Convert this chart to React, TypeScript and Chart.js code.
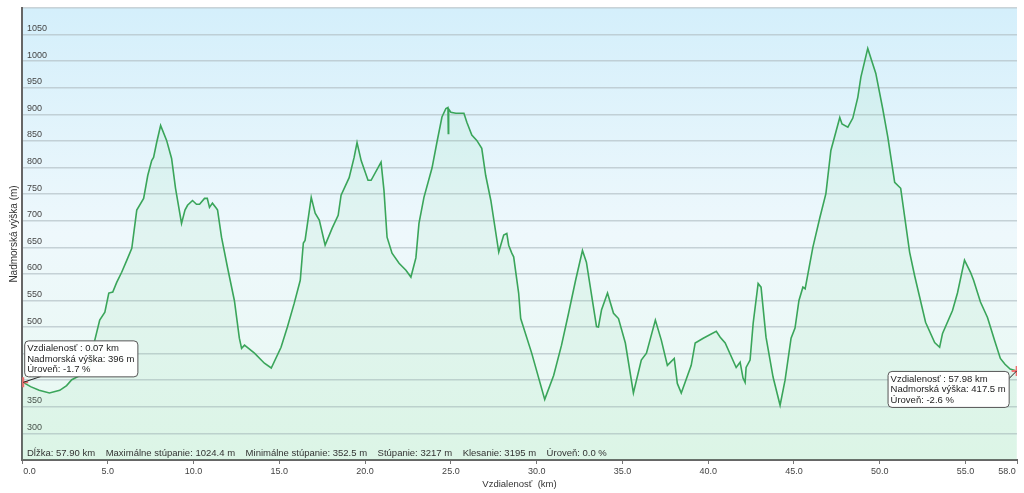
import React, { useEffect, useRef } from 'react';
import { Chart, registerables } from 'chart.js';

Chart.register(...registerables);

// ---- data ----
const distanceKm = [
  0.0, 0.07, 0.5, 1.0, 1.6, 2.2, 2.6, 2.9, 3.4, 3.95, 4.24, 4.53, 4.83, 5.06, 5.29, 5.52, 5.81, 6.1, 6.4, 6.69,
  7.09, 7.33, 7.56, 7.67, 7.85, 8.08, 8.43, 8.72, 8.95, 9.3, 9.5, 9.65, 9.94, 10.17, 10.35, 10.64, 10.8, 10.93, 11.1, 11.34,
  11.4, 11.63, 11.98, 12.38, 12.67, 12.8, 12.97, 13.55, 14.13, 14.53, 15.1, 15.47, 15.87, 16.22, 16.4, 16.5, 16.86, 17.09, 17.33, 17.67,
  18.08, 18.43, 18.6, 19.07, 19.36, 19.53, 19.77, 20.17, 20.35, 20.93, 21.1, 21.28, 21.57, 21.98, 22.38, 22.67, 22.96, 23.14, 23.43, 23.9,
  24.19, 24.48, 24.71, 24.83, 24.85, 24.87, 25.0, 25.29, 25.76, 25.93, 26.22, 26.51, 26.8, 27.03, 27.33, 27.79, 28.08, 28.26, 28.37, 28.55,
  28.66, 28.95, 29.07, 29.71, 30.47, 30.99, 31.45, 31.86, 32.27, 32.67, 32.9, 33.49, 33.6, 33.78, 34.13, 34.48, 34.77, 35.17, 35.64, 36.1,
  36.4, 36.92, 37.27, 37.62, 38.02, 38.2, 38.43, 39.01, 39.24, 39.71, 40.47, 40.7, 40.99, 41.63, 41.86, 42.03, 42.15, 42.21, 42.44, 42.62,
  42.91, 43.08, 43.37, 43.78, 44.19, 44.48, 44.83, 45.06, 45.29, 45.52, 45.65, 46.1, 46.51, 46.86, 47.15, 47.67, 47.8, 48.14, 48.43, 48.72,
  48.9, 49.3, 49.77, 50.17, 50.47, 50.87, 51.22, 51.74, 52.03, 52.67, 53.2, 53.49, 53.66, 54.24, 54.53, 54.94, 55.29, 55.47, 55.87, 56.28,
  56.69, 57.03, 57.3, 57.6, 57.98,
];
const elevationM = [
  398, 396, 388, 381, 376, 381, 390, 401, 409, 424, 475, 513, 528, 564, 566, 584, 603, 625, 648, 720,
  742, 785, 813, 819, 847, 879, 851, 817, 761, 695, 720, 729, 738, 731, 731, 742, 742, 725, 733, 723,
  720, 669, 612, 550, 479, 460, 466, 451, 432, 423, 462, 500, 545, 588, 658, 663, 744, 714, 701, 654,
  686, 710, 748, 781, 819, 847, 813, 776, 776, 810, 757, 669, 639, 620, 607, 594, 630, 695, 744, 799,
  848, 895, 911, 913, 864, 910, 904, 902, 902, 885, 861, 851, 836, 785, 738, 641, 673, 676, 654, 639,
  632, 564, 516, 451, 364, 409, 466, 526, 588, 644, 622, 501, 500, 532, 564, 526, 516, 470, 376, 438,
  451, 513, 475, 428, 441, 394, 376, 428, 470, 479, 492, 481, 470, 424, 434, 404, 396, 424, 438, 507,
  582, 575, 481, 406, 353, 400, 479, 498, 550, 575, 572, 650, 706, 751, 832, 894, 882, 876, 893, 932,
  970, 1024, 977, 911, 857, 772, 761, 641, 597, 509, 471, 462, 488, 531, 564, 626, 603, 588, 547, 518,
  475, 441, 430, 421, 417.5,
];

const xTickValues = [0, 5, 10, 15, 20, 25, 30, 35, 40, 45, 50, 55, 58];
const yMin = 250;
const yMax = 1100;
const yStep = 50;

const xAxisTitle = 'Vzdialenosť  (km)';
const yAxisTitle = 'Nadmorská výška (m)';

const statsText = [
  'Dĺžka: 57.90 km',
  'Maximálne stúpanie: 1024.4 m',
  'Minimálne stúpanie: 352.5 m',
  'Stúpanie: 3217 m',
  'Klesanie: 3195 m',
  'Úroveň: 0.0 %',
];

const markerKm = [0.07, 57.98];
const markerElev = [396, 417.5];
const markerGrade = ['-1.7', '-2.6'];
const markerElevText = ['396', '417.5'];

const FONT = "'Liberation Sans', Arial, sans-serif";

function roundRect(ctx: CanvasRenderingContext2D, x: number, y: number, w: number, h: number, r: number) {
  ctx.beginPath();
  ctx.moveTo(x + r, y);
  ctx.lineTo(x + w - r, y);
  ctx.quadraticCurveTo(x + w, y, x + w, y + r);
  ctx.lineTo(x + w, y + h - r);
  ctx.quadraticCurveTo(x + w, y + h, x + w - r, y + h);
  ctx.lineTo(x + r, y + h);
  ctx.quadraticCurveTo(x, y + h, x, y + h - r);
  ctx.lineTo(x, y + r);
  ctx.quadraticCurveTo(x, y, x + r, y);
  ctx.closePath();
}

const backgroundPlugin = {
  id: 'bgGradient',
  beforeDraw(chart: any) {
    const { ctx, chartArea: a } = chart;
    ctx.save();
    const g = ctx.createLinearGradient(0, a.top, 0, a.bottom);
    g.addColorStop(0, '#d4effb');
    g.addColorStop(0.5, '#eef8fc');
    g.addColorStop(1, '#e8f9f0');
    ctx.fillStyle = g;
    ctx.fillRect(a.left, a.top, a.width, a.height);
    ctx.restore();
  },
};

const overlayPlugin = {
  id: 'overlay',
  afterDraw(chart: any) {
    const { ctx, chartArea: a, scales } = chart;
    const xs = scales.x;
    const ys = scales.y;
    ctx.save();
    // stats line
    ctx.font = `9.5px ${FONT}`;
    ctx.fillStyle = '#333';
    ctx.textBaseline = 'alphabetic';
    ctx.textAlign = 'left';
    ctx.fillText(statsText.join('    '), a.left + 5, a.bottom - 4);

    // tooltips
    for (let i = 0; i < markerKm.length; i++) {
      const px = xs.getPixelForValue(markerKm[i]);
      const py = ys.getPixelForValue(markerElev[i]);
      const lines = [
        `Vzdialenosť : ${markerKm[i].toFixed(2)} km`,
        `Nadmorská výška: ${markerElevText[i]} m`,
        `Úroveň: ${markerGrade[i]} %`,
      ];
      ctx.font = `9.5px ${FONT}`;
      const w = Math.max(...lines.map((l) => ctx.measureText(l).width)) + 6;
      const h = 36;
      const left = i === 0;
      const bx = left ? px + 1 : px - 8 - w;
      const by = left ? py - 42 : py;
      // connector
      ctx.strokeStyle = '#222';
      ctx.lineWidth = 1;
      ctx.beginPath();
      if (left) {
        ctx.moveTo(px, py);
        ctx.lineTo(px + 18, py - 6);
      } else {
        ctx.moveTo(px, py);
        ctx.lineTo(px - 8, py + 8);
      }
      ctx.stroke();
      roundRect(ctx, bx + 0.5, by + 0.5, w, h, 4);
      ctx.fillStyle = 'rgba(255,255,255,0.95)';
      ctx.fill();
      ctx.strokeStyle = '#555';
      ctx.stroke();
      ctx.fillStyle = '#222';
      lines.forEach((l, k) => ctx.fillText(l, bx + 3, by + 11 + k * 10.5));
    }
    ctx.restore();
  },
};

export default function App() {
  const ref = useRef<HTMLCanvasElement | null>(null);
  useEffect(() => {
    if (!ref.current) return;
    const profile = distanceKm.map((d, i) => ({ x: d, y: elevationM[i] }));
    const markers = markerKm.map((d, i) => ({ x: d, y: markerElev[i] }));
    const chart = new Chart(ref.current, {
      type: 'line',
      data: {
        datasets: [
          {
            type: 'scatter' as any,
            data: markers,
            pointStyle: 'cross',
            pointRadius: 5,
            pointBorderColor: '#f07070',
            pointBorderWidth: 2,
            showLine: false,
          } as any,
          {
            data: profile,
            borderColor: '#3aa55a',
            borderWidth: 1.6,
            backgroundColor: 'rgba(120, 215, 150, 0.1)',
            fill: 'start',
            pointRadius: 0,
            tension: 0,
          },
        ],
      },
      options: {
        animation: false,
        responsive: false,
        devicePixelRatio: 1,
        layout: { padding: { left: 0, right: 4, top: 8, bottom: 0 } },
        plugins: { legend: { display: false }, tooltip: { enabled: false } },
        scales: {
          x: {
            type: 'linear',
            min: 0,
            max: 58,
            afterBuildTicks: (s: any) => {
              s.ticks = xTickValues.map((v) => ({ value: v }));
            },
            afterFit: (s: any) => {
              s.height = 33;
              s.paddingLeft = 0;
              s.paddingRight = 0;
            },
            grid: { drawOnChartArea: false, drawTicks: true, tickLength: 4, color: '#777', lineWidth: 1 },
            border: { color: '#666', width: 2 },
            ticks: {
              autoSkip: false,
              maxRotation: 0,
              padding: 2,
              color: '#444',
              font: { family: FONT, size: 9 },
              callback: (v: any, idx: number) => {
                const t = Number(v).toFixed(1);
                if (idx === 0) return '      ' + t;
                if (idx === xTickValues.length - 1) return t + '        ';
                return t;
              },
            },
            title: {
              display: true,
              text: xAxisTitle,
              color: '#333',
              font: { family: FONT, size: 9.5 },
              padding: { top: 0, bottom: 3 },
            },
          },
          y: {
            min: yMin,
            max: yMax,
            afterFit: (s: any) => {
              s.width = 22;
              s.paddingTop = 0;
              s.paddingBottom = 0;
            },
            grid: { color: 'rgba(180,193,198,0.7)', lineWidth: 1.5, drawTicks: false },
            border: { color: '#666', width: 2 },
            ticks: {
              stepSize: yStep,
              mirror: true,
              padding: 5,
              labelOffset: -6,
              color: '#444',
              font: { family: FONT, size: 9 },
              callback: (v: any) => (v === yMin || v === yMax ? '' : String(v)),
            },
            title: {
              display: true,
              text: yAxisTitle,
              color: '#333',
              font: { family: FONT, size: 10 },
              padding: { top: 8, bottom: 0 },
            },
          },
        },
      },
      plugins: [backgroundPlugin, overlayPlugin],
    });
    return () => chart.destroy();
  }, []);
  return (
    <div style={{ position: 'fixed', left: 0, top: 0, width: 1024, height: 493, background: '#fff' }}>
      <canvas ref={ref} width={1024} height={493} style={{ display: 'block', width: 1024, height: 493 }} />
    </div>
  );
}
